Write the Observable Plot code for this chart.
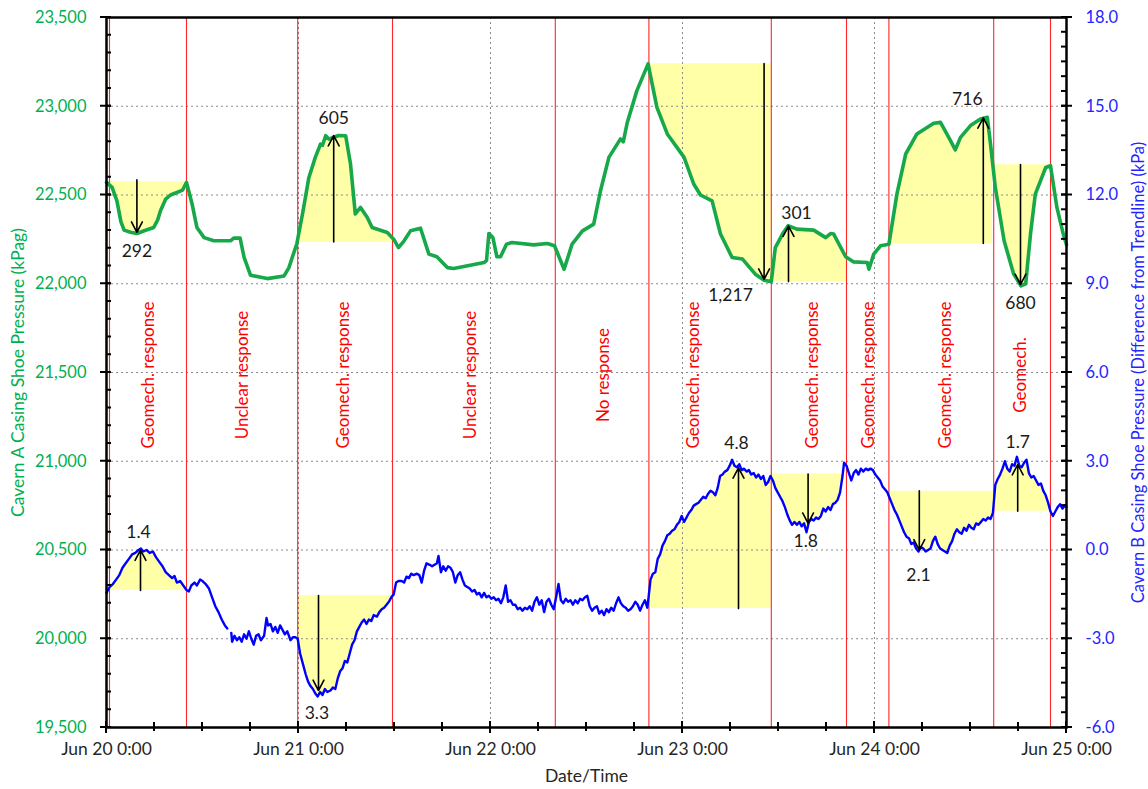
<!DOCTYPE html>
<html>
<head>
<meta charset="utf-8">
<script src="https://cdn.jsdelivr.net/npm/d3@7"></script>
<script src="https://cdn.jsdelivr.net/npm/@observablehq/plot@0.6"></script>
<style>
  html, body { margin: 0; padding: 0; background: #fff; }
</style>
</head>
<body>
<div id="chart"></div>
<script>
// ---------- DATA ----------
// hours since Jun 20 0:00, Cavern A casing shoe pressure (kPag)
const greenSeries = [
  [0,22571],[0.7,22543],[1.3,22467],[1.8,22350],[2.2,22302],[3.0,22290],[3.8,22283],[4.8,22300],
  [5.9,22317],[6.4,22360],[6.75,22411],[7.4,22477],[8.0,22500],[8.8,22514],[9.5,22527],[10.0,22571],
  [10.7,22449],[11.3,22317],[12.2,22260],[13.4,22242],[15.5,22242],[15.9,22257],[16.7,22257],[17.2,22148],
  [18.0,22048],[20.1,22029],[22.2,22044],[22.8,22091],[23.8,22227],[24.5,22393],[25.3,22599],[26.1,22712],
  [26.75,22787],[27.0,22780],[27.4,22834],[27.8,22815],[28.4,22825],[29.0,22835],[29.9,22834],[30.5,22675],
  [31.1,22393],[31.75,22430],[32.6,22373],[33.2,22317],[35.1,22289],[35.9,22251],[36.5,22204],[37.2,22242],
  [38.0,22298],[39.25,22313],[40.3,22167],[41.3,22152],[42.6,22091],[43.4,22086],[47.2,22120],[47.5,22130],
  [47.8,22283],[48.3,22260],[48.8,22152],[49.25,22152],[50.0,22223],[50.7,22232],[53.4,22219],[55.1,22227],
  [56.0,22214],[57.2,22082],[58.2,22223],[59.5,22298],[60.9,22336],[61.75,22524],[62.8,22712],[64.25,22816],
  [64.6,22800],[65.1,22909],[66.3,23088],[67.7,23239],[68.8,22994],[70.1,22844],[72.2,22712],[73.4,22562],
  [74.25,22500],[75.7,22467],[76.75,22280],[78.2,22148],[79.5,22139],[81.1,22054],[82.2,22020],[83.1,22012],
  [83.6,22204],[84.5,22280],[85.2,22327],[86.3,22308],[88.4,22302],[89.9,22260],[90.5,22283],[90.9,22280],
  [92.4,22152],[93.4,22123],[95.1,22120],[95.3,22082],[95.9,22167],[96.75,22214],[97.8,22223],[98.8,22505],
  [99.9,22731],[101.3,22844],[103.4,22904],[104.25,22909],[105.5,22806],[106.1,22754],[106.75,22825],[108.0,22891],
  [109.25,22928],[110.1,22938],[110.5,22787],[111.1,22543],[112.2,22242],[113.4,22054],[114.3,21988],[114.9,22000],
  [115.5,22280],[116.1,22505],[116.75,22580],[117.4,22655],[118.0,22665],[118.8,22430],[119.6,22280],[120.0,22220]
];

// hours since Jun 20 0:00, Cavern B casing shoe pressure, difference from trendline (kPa); null = data gap
const blueSeries = [
  [0,-1.45],[0.4,-1.25],[0.8,-1.15],[1.2,-1.0],[1.6,-0.85],[2.0,-0.6],[2.4,-0.45],[2.8,-0.3],[3.2,-0.15],[3.6,-0.1],
  [4.0,0.0],[4.3,0.05],[4.6,-0.05],[5.0,0.0],[5.4,-0.1],[5.8,-0.05],[6.2,-0.25],[6.6,-0.4],[7.0,-0.55],[7.4,-0.75],
  [7.8,-0.85],[8.2,-0.95],[8.5,-0.88],[8.8,-1.1],[9.2,-1.05],[9.6,-1.2],[10.0,-1.35],[10.3,-1.4],[10.6,-1.2],[11.0,-1.1],
  [11.3,-1.2],[11.7,-1.0],[12.0,-1.05],[12.4,-1.15],[12.8,-1.3],[13.2,-1.6],[13.6,-1.9],[14.0,-2.1],[14.4,-2.35],[14.8,-2.55],
  [15.1,-2.65],[15.3,null],[15.6,-2.8],[15.7,-3.1],[16.0,-2.9],[16.3,-3.05],[16.6,-2.95],[16.9,-3.1],[17.2,-2.85],[17.5,-3.0],
  [17.8,-2.75],[18.1,-3.0],[18.4,-3.2],[18.7,-2.9],[19.0,-2.85],[19.3,-3.05],[19.7,-2.9],[20.0,-2.3],[20.2,-2.55],[20.5,-2.5],
  [20.8,-2.75],[21.1,-2.6],[21.4,-2.8],[21.7,-2.55],[22.0,-2.7],[22.3,-2.85],[22.6,-2.75],[23.0,-3.05],[23.3,-2.95],[23.6,-2.95],
  [23.9,-3.0],[24.2,-3.5],[24.6,-3.9],[24.9,-4.2],[25.2,-4.45],[25.5,-4.6],[25.8,-4.7],[26.1,-4.85],[26.4,-4.95],[26.7,-4.8],
  [27.0,-4.9],[27.3,-4.7],[27.6,-4.8],[28.0,-4.75],[28.3,-4.65],[28.6,-4.7],[28.9,-4.35],[29.2,-4.1],[29.5,-4.0],[29.8,-3.75],
  [30.1,-3.8],[30.4,-3.5],[30.7,-3.2],[31.0,-3.05],[31.3,-2.75],[31.6,-2.6],[31.9,-2.45],[32.2,-2.35],[32.5,-2.5],[32.8,-2.35],
  [33.1,-2.4],[33.4,-2.2],[33.8,-2.25],[34.1,-2.1],[34.4,-2.0],[34.7,-1.95],[35.0,-1.85],[35.3,-1.75],[35.6,-1.6],[35.9,-1.5],
  [36.2,-1.1],[36.5,-1.05],[36.9,-1.05],[37.2,-1.1],[37.5,-0.9],[37.8,-0.95],[38.1,-0.8],[38.4,-0.85],[38.8,-0.8],[39.1,-0.85],
  [39.4,-1.1],[39.7,-0.7],[40.0,-0.45],[40.4,-0.5],[40.7,-0.55],[41.0,-0.5],[41.3,-0.45],[41.5,-0.2],[41.8,-0.75],[42.1,-0.55],
  [42.4,-0.7],[42.7,-0.55],[43.0,-0.6],[43.3,-0.75],[43.6,-1.1],[43.9,-0.85],[44.2,-0.75],[44.5,-1.0],[44.8,-1.2],[45.1,-1.25],
  [45.4,-1.3],[45.7,-1.4],[46.0,-1.35],[46.3,-1.5],[46.6,-1.45],[46.9,-1.6],[47.2,-1.45],[47.5,-1.6],[47.8,-1.55],[48.1,-1.65],
  [48.4,-1.6],[48.7,-1.7],[49.0,-1.65],[49.3,-1.8],[49.6,-1.6],[49.9,-1.2],[50.2,-1.75],[50.5,-1.7],[50.8,-1.85],[51.1,-1.85],
  [51.4,-2.0],[51.7,-1.95],[52.0,-2.05],[52.3,-1.95],[52.6,-2.0],[52.9,-1.9],[53.2,-2.05],[53.5,-1.75],[53.8,-1.6],[54.1,-1.85],
  [54.4,-1.7],[54.7,-2.1],[55.0,-1.75],[55.3,-1.65],[55.6,-1.85],[55.9,-2.0],[56.2,-1.6],[56.5,-1.15],[56.8,-1.7],[57.1,-1.8],
  [57.4,-1.65],[57.7,-1.75],[58.0,-1.7],[58.3,-1.85],[58.6,-1.7],[58.9,-1.8],[59.2,-1.65],[59.5,-1.7],[59.8,-1.6],[60.1,-1.55],
  [60.4,-1.9],[60.7,-2.05],[61.0,-1.95],[61.3,-1.9],[61.6,-2.15],[61.9,-2.05],[62.2,-2.2],[62.5,-2.0],[62.8,-2.1],[63.1,-1.95],
  [63.4,-2.05],[63.7,-1.8],[64.0,-1.6],[64.3,-1.8],[64.6,-1.9],[64.9,-1.95],[65.2,-2.05],[65.5,-2.0],[65.8,-1.9],[66.1,-1.75],
  [66.4,-1.85],[66.7,-2.05],[67.0,-1.85],[67.3,-1.7],[67.6,-1.95],[67.8,-1.5],[68.0,-1.0],[68.3,-0.8],[68.6,-0.75],[68.9,-0.3],
  [69.2,-0.15],[69.5,0.15],[69.8,0.3],[70.1,0.5],[70.4,0.55],[70.7,0.65],[71.0,0.7],[71.3,0.85],[71.6,0.95],[71.9,1.15],
  [72.2,0.95],[72.5,1.1],[72.8,1.25],[73.1,1.35],[73.4,1.5],[73.7,1.55],[74.0,1.6],[74.3,1.7],[74.6,1.8],[74.9,1.75],
  [75.2,1.9],[75.5,2.0],[75.8,1.95],[76.1,1.85],[76.4,2.1],[76.7,2.5],[77.0,2.55],[77.3,2.65],[77.6,2.7],[77.9,2.85],
  [78.2,3.05],[78.5,2.85],[78.8,2.8],[79.1,2.9],[79.4,2.7],[79.7,2.75],[80.0,2.65],[80.3,2.7],[80.6,2.55],[80.9,2.6],
  [81.2,2.45],[81.5,2.55],[81.8,2.4],[82.1,2.5],[82.4,2.2],[82.7,2.3],[83.0,2.5],[83.3,2.35],[83.6,2.1],[83.9,1.95],
  [84.2,1.8],[84.5,1.65],[84.8,1.45],[85.1,1.2],[85.4,1.0],[85.7,0.85],[86.0,0.95],[86.3,0.85],[86.6,0.95],[86.9,0.8],
  [87.2,0.9],[87.5,0.6],[87.8,0.95],[88.1,1.05],[88.4,1.0],[88.7,1.1],[89.0,1.05],[89.3,1.15],[89.6,1.4],[89.9,1.3],
  [90.2,1.45],[90.5,1.35],[90.8,1.55],[91.1,1.6],[91.4,1.7],[91.7,1.95],[92.0,2.5],[92.2,2.95],[92.5,2.85],[92.8,2.6],
  [93.1,2.35],[93.4,2.6],[93.7,2.7],[94.0,2.55],[94.3,2.75],[94.6,2.65],[94.9,2.75],[95.2,2.7],[95.5,2.75],[95.8,2.7],
  [96.1,2.55],[96.4,2.45],[96.7,2.35],[97.0,2.15],[97.3,2.05],[97.6,1.95],[97.9,1.75],[98.2,1.55],[98.5,1.35],[98.8,1.2],
  [99.1,1.0],[99.4,0.8],[99.7,0.6],[100.0,0.45],[100.3,0.4],[100.6,0.2],[100.9,0.25],[101.2,0.05],[101.5,-0.05],[101.8,0.1],
  [102.1,0.05],[102.4,-0.05],[102.7,0.0],[103.0,0.05],[103.3,0.3],[103.6,0.45],[103.9,0.2],[104.2,0.05],[104.5,0.0],[104.8,-0.05],
  [105.1,-0.1],[105.4,0.15],[105.7,0.3],[106.0,0.55],[106.3,0.7],[106.6,0.6],[106.9,0.55],[107.2,0.75],[107.5,0.65],[107.8,0.85],
  [108.1,0.75],[108.4,0.7],[108.7,0.9],[109.0,0.85],[109.3,0.95],[109.6,1.05],[109.9,1.0],[110.2,1.1],[110.5,1.05],[110.8,1.25],
  [111.1,2.2],[111.4,2.4],[111.7,2.55],[112.0,2.75],[112.3,3.0],[112.6,2.75],[112.9,2.65],[113.2,2.9],[113.5,2.85],[113.8,3.15],
  [114.1,2.85],[114.4,2.8],[114.7,2.95],[115.0,3.05],[115.3,2.6],[115.6,2.45],[115.9,2.5],[116.2,2.35],[116.5,2.2],[116.8,2.25],
  [117.1,2.0],[117.4,1.85],[117.7,1.6],[118.0,1.3],[118.3,1.15],[118.6,1.3],[118.9,1.45],[119.2,1.55],[119.5,1.4],[119.8,1.5],
  [120.0,1.45]
];

// red event boundaries (hours)
const eventHours = [0.375, 10.0, 23.9, 35.75, 56.1, 67.8, 83.1, 92.5, 97.8, 110.9, 118.0];

// interval labels
const regionHours = [5.2, 17.0, 29.6, 45.5, 62.1, 73.4, 88.3, 95.3, 104.9, 114.25];
const regionTexts = ["Geomech. response","Unclear response","Geomech. response","Unclear response","No response",
  "Geomech. response","Geomech. response","Geomech. response","Geomech. response","Geomech."];
const regionLabelKPag = 21486;

// shaded response bands: [start h, end h, baseline]
const greenBands = [[0.4,10.0,22575],[23.9,35.75,22232],[67.7,83.1,23240],[83.1,92.5,22012],[97.75,110.75,22227],[110.9,118.0,22671]];
const blueBands  = [[0.4,10.1,-1.37],[23.9,35.7,-1.54],[67.7,83.1,-1.98],[83.1,92.2,2.57],[98.0,110.9,1.99],[110.9,117.9,1.31]];

// response arrows: hour, from, to, label, label hour, label value
const greenArrowHours = [3.8, 28.4, 82.2, 85.25, 109.6, 114.25];
const greenArrowFrom  = [22585, 22235, 23240, 22012, 22227, 22671];
const greenArrowTo    = [22290, 22835, 22025, 22325, 22935, 21995];
const greenArrowText  = ["292","605","1,217","301","716","680"];
const greenLabelHours = [3.8, 28.4, 78.0, 86.25, 107.6, 114.25];
const greenLabelKPag  = [22185, 22930, 21932, 22394, 23037, 21892];

const blueArrowHours = [4.25, 26.5, 79.0, 87.7, 101.6, 113.9];
const blueArrowFrom  = [-1.37, -1.54, -1.98, 2.57, 2.0, 1.31];
const blueArrowTo    = [0.0, -4.75, 2.78, 0.9, 0.0, 2.89];
const blueArrowText  = ["1.4","3.3","4.8","1.8","2.1","1.7"];
const blueLabelHours = [4.0, 26.3, 78.75, 87.4, 101.5, 113.9];
const blueLabelKPa   = [0.61, -5.53, 3.62, 0.30, -0.85, 3.65];

// axes
const leftTicks  = [19500, 20000, 20500, 21000, 21500, 22000, 22500, 23000, 23500];
const rightTicks = [-6, -3, 0, 3, 6, 9, 12, 15, 18];
const gridKPag   = [20000, 20500, 21000, 21500, 22000, 22500, 23000];
const dayTicks   = [20, 21, 22, 23, 24, 25];
const gridDays   = [21, 22, 23, 24];

// ---------- HELPERS ----------
const T0 = Date.UTC(2023, 5, 20);
const toDate = h => new Date(T0 + h * 3600e3);
const dayDate = d => new Date(Date.UTC(2023, 5, d));
const L0 = 19500, L1 = 23500, R0 = -6, R1 = 18;
const toLeft = r => L0 + (r - R0) * (L1 - L0) / (R1 - R0);
const toRight = v => R0 + (v - L0) * (R1 - R0) / (L1 - L0);

function interp(series, h) {
  const pts = series.filter(p => p[1] != null);
  for (let i = 0; i < pts.length - 1; i++) {
    const [h0, v0] = pts[i], [h1, v1] = pts[i + 1];
    if (h >= h0 && h <= h1) return v0 + (v1 - v0) * (h - h0) / (h1 - h0);
  }
  return pts[pts.length - 1][1];
}
function bandRows(series, [start, end, base], id, conv) {
  const rows = [[start, interp(series, start)]];
  series.forEach(p => { if (p[0] > start && p[0] < end && p[1] != null) rows.push(p); });
  rows.push([end, interp(series, end)]);
  const below = d3.mean(rows, r => r[1]) < base;
  return rows.map(([h, v]) => ({
    id, t: toDate(h), base: conv(base), v: conv(below ? Math.min(v, base) : Math.max(v, base))
  }));
}
const ident = v => v;
const bands = [
  ...greenBands.flatMap((b, i) => bandRows(greenSeries, b, "g" + i, ident)),
  ...blueBands.flatMap((b, i) => bandRows(blueSeries, b, "b" + i, toLeft))
];

const greenData = greenSeries.map(([h, v]) => ({t: toDate(h), v}));
const blueData = blueSeries.map(([h, r]) => ({t: toDate(h), v: r == null ? NaN : toLeft(r)}));

const arrows = [
  ...greenArrowHours.map((h, i) => ({t: toDate(h), y1: greenArrowFrom[i], y2: greenArrowTo[i]})),
  ...blueArrowHours.map((h, i) => ({t: toDate(h), y1: toLeft(blueArrowFrom[i]), y2: toLeft(blueArrowTo[i])}))
];
const arrowLabels = [
  ...greenArrowText.map((s, i) => ({t: toDate(greenLabelHours[i]), v: greenLabelKPag[i], s})),
  ...blueArrowText.map((s, i) => ({t: toDate(blueLabelHours[i]), v: toLeft(blueLabelKPa[i]), s}))
];
const regions = regionTexts.map((s, i) => ({t: toDate(regionHours[i]), s}));

const GREEN = "#00b050", GREEN_LINE = "#17a84a", BLUE = "#0000ff", BLUE_TXT = "#2424ff";
const FONT = 16.5;

const W = 1148, H = 789, MT = 17, MB = 62, ML = 106, MR = 82;

const chart = Plot.plot({
  width: W,
  height: H,
  marginTop: MT,
  marginBottom: MB,
  marginLeft: ML,
  marginRight: MR,
  style: {fontFamily: "Lato, 'Open Sans', sans-serif", fontSize: FONT + "px", background: "#fff", overflow: "visible"},
  x: {type: "utc", domain: [dayDate(20), dayDate(25)]},
  y: {domain: [L0, L1]},
  marks: [
    // yellow response bands
    Plot.areaY(bands, {x: "t", y1: "base", y2: "v", z: "id", fill: "#ffff99", fillOpacity: 0.85, curve: "linear"}),
    // dotted gridlines
    Plot.ruleY(gridKPag, {stroke: "#8a8a8a", strokeWidth: 1, strokeDasharray: "2,3"}),
    Plot.ruleX(gridDays.map(dayDate), {stroke: "#8a8a8a", strokeWidth: 1, strokeDasharray: "2,3"}),
    // event boundaries
    Plot.ruleX(eventHours.map(toDate), {stroke: "#ff0000", strokeWidth: 1.1, strokeOpacity: 0.85}),
    // interval labels
    Plot.text(regions, {x: "t", y: () => regionLabelKPag, text: "s", rotate: -90, fill: "#ff0000",
      fontSize: FONT + 0.5, textAnchor: "middle", lineAnchor: "middle"}),
    // series
    Plot.line(blueData, {x: "t", y: "v", stroke: BLUE, strokeWidth: 2.4, curve: "linear"}),
    Plot.line(greenData, {x: "t", y: "v", stroke: GREEN_LINE, strokeWidth: 3.6, curve: "linear"}),
    // arrows + magnitudes
    Plot.arrow(arrows, {x: "t", y1: "y1", y2: "y2", stroke: "#000", strokeWidth: 1.6, headLength: 11, headAngle: 55}),
    Plot.text(arrowLabels, {x: "t", y: "v", text: "s", fill: "#1a1a1a", fontSize: 17.5, textAnchor: "middle", lineAnchor: "middle"}),
    // frame
    Plot.frame({stroke: "#000", strokeWidth: 2.5}),
    // tick labels
    Plot.axisY({ticks: leftTicks, tickSize: 0, tickPadding: 20, fill: GREEN, tickFormat: d3.format(","), fontSize: FONT, label: null}),
    Plot.axisY({anchor: "right", ticks: rightTicks.map(toLeft), tickSize: 0, tickPadding: 19, fill: BLUE_TXT,
      tickFormat: v => toRight(v).toFixed(1), fontSize: FONT, label: null}),
    Plot.axisX({ticks: dayTicks.map(dayDate), tickSize: 0, tickPadding: 15, fill: "#262626",
      tickFormat: d => `Jun ${d.getUTCDate()} 0:00`, fontSize: FONT + 1, label: null}),
    // axis titles
    Plot.text(["Cavern A Casing Shoe Pressure (kPag)"], {frameAnchor: "left", dx: -88, rotate: -90, fill: GREEN, fontSize: FONT + 1,
      textAnchor: "middle", lineAnchor: "middle"}),
    Plot.text(["Cavern B Casing Shoe Pressure (Difference from Trendline) (kPa)"], {frameAnchor: "right", dx: 72, rotate: -90,
      fill: BLUE_TXT, fontSize: FONT, textAnchor: "middle", lineAnchor: "middle"}),
    Plot.text(["Date/Time"], {frameAnchor: "bottom", dy: 49, fill: "#262626", fontSize: FONT + 1, textAnchor: "middle", lineAnchor: "middle"})
  ]
});
document.getElementById("chart").appendChild(chart);

// ---------- tick marks, positioned through the plot's own scales ----------
const sx = chart.scale("x"), sy = chart.scale("y");
const xL = sx.apply(dayDate(20)), xR = sx.apply(dayDate(25)), yB = sy.apply(L0);
const tg = d3.select(chart).append("g").attr("stroke", "#000").attr("stroke-width", 2).attr("fill", "none");
const hTick = (v, a, b) => tg.append("line").attr("x1", a).attr("x2", b).attr("y1", sy.apply(v)).attr("y2", sy.apply(v));
const vTick = (t, a, b) => tg.append("line").attr("x1", sx.apply(t)).attr("x2", sx.apply(t)).attr("y1", a).attr("y2", b);
leftTicks.forEach(v => hTick(v, xL - 6, xL + 5));
d3.range(L0, L1 + 1, 100).forEach(v => hTick(v, xL, xL + 5));
rightTicks.forEach(r => hTick(toLeft(r), xR - 5, xR + 6));
d3.range(R0, R1 + 0.01, 0.5).forEach(r => hTick(toLeft(r), xR - 5, xR));
d3.range(0, 121, 6).forEach(h => vTick(toDate(h), yB - 5, yB + 4));
dayTicks.forEach(d => vTick(dayDate(d), yB - 6, yB + 6));
</script>
</body>
</html>
